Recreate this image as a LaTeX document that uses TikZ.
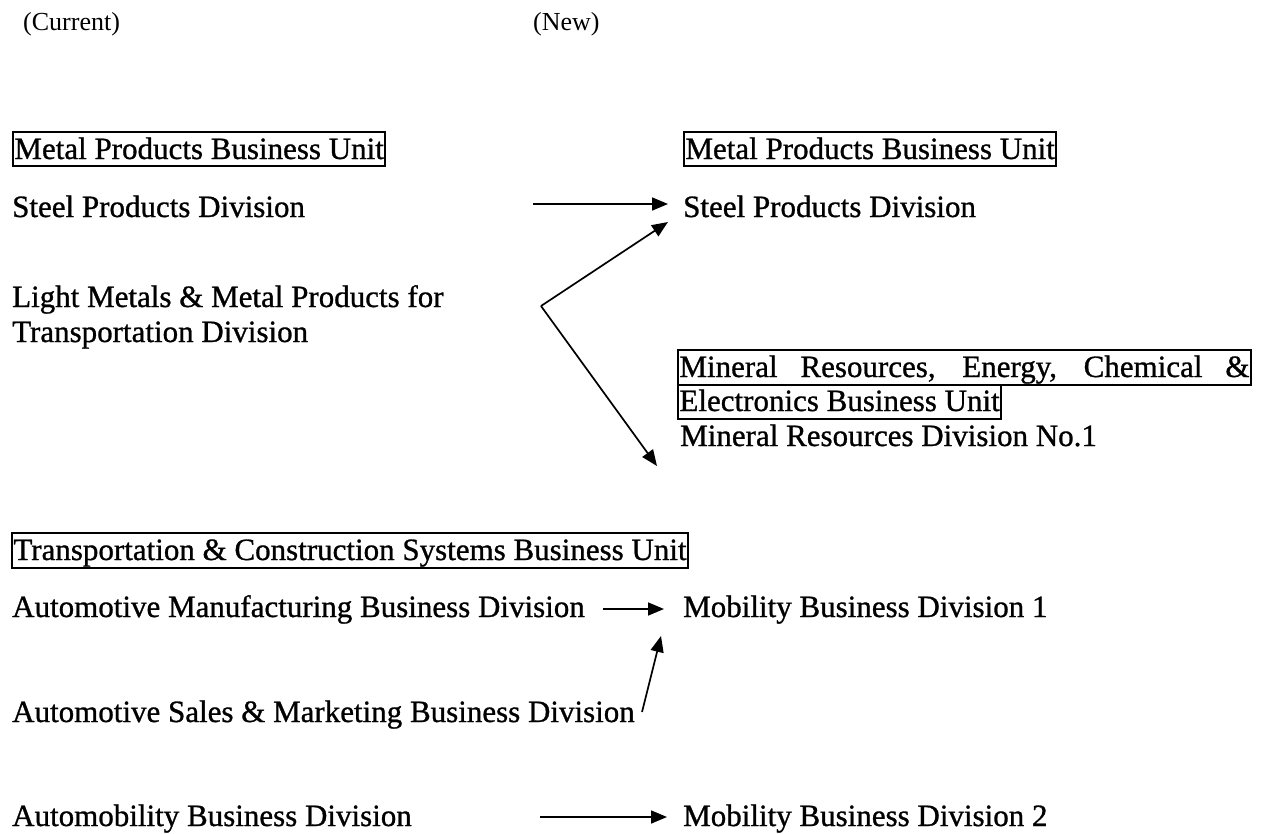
\documentclass[tikz,border=0pt]{standalone}
\usepackage{fontspec}
\setmainfont{Liberation Serif}
\newfontfamily\bodyfont{Liberation Serif}[FakeBold=0.9,BoldFont=Liberation Serif]
\usetikzlibrary{arrows.meta}
\begin{document}
\begin{tikzpicture}[x=1pt,y=-1pt,
  lbl/.style={anchor=base west,inner sep=0pt,font=\bodyfont\bfseries\fontsize{31}{34}\selectfont},
  hdr/.style={anchor=base west,inner sep=0pt,font=\fontsize{26}{28}\selectfont},
  unitbox/.style={lbl,draw,line width=1.9pt,inner xsep=1.5pt,inner ysep=1pt,text height=26pt,text depth=6pt},
  arr/.style={line width=1.7pt,-{Triangle[length=16pt,width=13pt]}}]
\useasboundingbox (0,0) rectangle (1261,833);
% headers
\node[hdr] (hcur) at (23,30) {(Current)};
\node[hdr] (hnew) at (533,30) {(New)};
% left column
\node[unitbox] (metalL) at (12,159) {Metal Products Business Unit};
\node[lbl] (steelL) at (12,217) {Steel Products Division};
\node[lbl] (light1) at (12,307) {Light Metals \& Metal Products for};
\node[lbl] (light2) at (12,342) {Transportation Division};
\node[unitbox,text depth=7pt] (transL) at (11,560) {Transportation \& Construction Systems Business Unit};
\node[lbl] (amfg) at (12,617) {Automotive Manufacturing Business Division};
\node[lbl] (asales) at (12,722) {Automotive Sales \& Marketing Business Division};
\node[lbl] (amob) at (12,826) {Automobility Business Division};
% right column
\node[unitbox] (metalR) at (683,159) {Metal Products Business Unit};
\node[lbl] (steelR) at (683,217) {Steel Products Division};
\node[unitbox,text depth=7pt] (min1) at (677,377) {\makebox[570pt][s]{Mineral Resources, Energy, Chemical \&}};
\node[unitbox,text height=25pt,text depth=7pt] (min2) at (677,411) {Electronics Business Unit};
\node[lbl] (min3) at (680,446) {Mineral Resources Division No.1};
\node[lbl] (mob1) at (683,617) {Mobility Business Division 1};
\node[lbl] (mob2) at (683,826) {Mobility Business Division 2};
% connectors
\coordinate (a1s) at (533,204);
\coordinate (a1e) at (668,204);
\coordinate (bv) at (541,306);
\coordinate (bt1) at (668,222);
\coordinate (bt2) at (657,466);
\coordinate (a2s) at (603,609);
\coordinate (a2e) at (664,609);
\coordinate (a3s) at (642,712);
\coordinate (a3e) at (661,636);
\coordinate (a4s) at (540,817);
\coordinate (a4e) at (667,817);
\draw[arr] (a1s) -- (a1e);
\draw[arr] (bv) -- (bt1);
\draw[arr] (bv) -- (bt2);
\draw[arr] (a2s) -- (a2e);
\draw[arr] (a3s) -- (a3e);
\draw[arr] (a4s) -- (a4e);
\end{tikzpicture}
\end{document}
